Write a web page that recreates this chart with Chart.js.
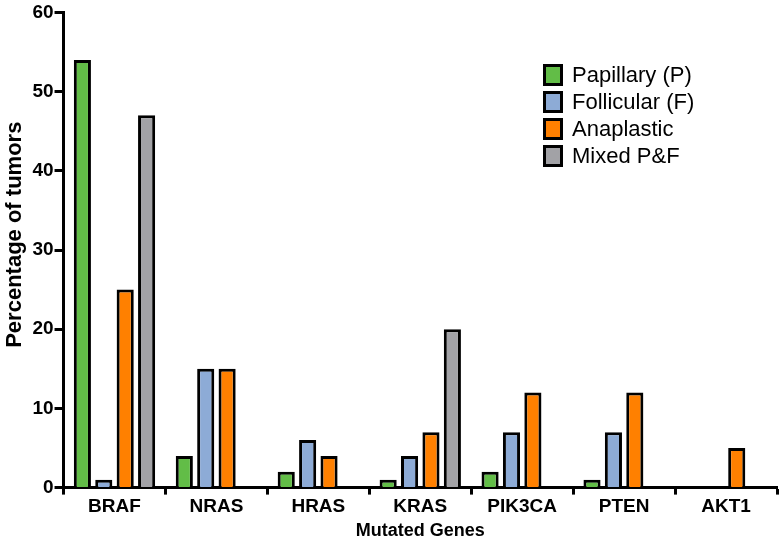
<!DOCTYPE html>
<html>
<head>
<meta charset="utf-8">
<script src="https://cdn.jsdelivr.net/npm/chart.js@4.4.1/dist/chart.umd.min.js"></script>
<style>
  html, body { margin: 0; padding: 0; background: #fff; }
  #wrap { position: relative; width: 784px; height: 545px; }
  #legend { position: absolute; left: 543px; top: 61px; font-family: "Liberation Sans", Arial, sans-serif; font-size: 22px; color: #000; }
  #legend div { height: 27px; line-height: 27px; white-space: nowrap; }
  #legend span { display: inline-block; width: 14px; height: 16px; border: 3px solid #000; vertical-align: -4px; margin-right: 9px; }
</style>
</head>
<body>
<div id="wrap">
  <canvas id="chart" width="784" height="545"></canvas>
  <div id="legend"></div>
</div>
<script>
// Data
const genes = ["BRAF", "NRAS", "HRAS", "KRAS", "PIK3CA", "PTEN", "AKT1"];
const papillary = [54, 4, 2, 1, 2, 1, null];
const follicular = [1, 15, 6, 4, 7, 7, null];
const anaplastic = [25, 15, 4, 7, 12, 12, 5];
const mixed = [47, null, null, 20, null, null, null];
const seriesNames = ["Papillary (P)", "Follicular (F)", "Anaplastic", "Mixed P&F"];
const seriesColors = ["#62bd47", "#8dabd6", "#ff8000", "#a2a2a6"];
const yTicks = [0, 10, 20, 30, 40, 50, 60];

const font = "'Liberation Sans', Arial, sans-serif";

const datasets = [papillary, follicular, anaplastic, mixed].map(function (vals, i) {
    return {
        label: seriesNames[i],
        data: vals,
        backgroundColor: seriesColors[i],
        borderColor: "#000",
        borderWidth: 3,
        borderSkipped: "bottom",
        categoryPercentage: 0.84,
        barPercentage: 0.8
    };
});

// simple html legend, so it sits inside the plot like the original
const legend = document.getElementById("legend");
seriesNames.forEach(function (name, i) {
    const row = document.createElement("div");
    row.innerHTML = '<span style="background:' + seriesColors[i] + '"></span>' + name;
    legend.appendChild(row);
});

const ctx = document.getElementById("chart").getContext("2d");
new Chart(ctx, {
    type: "bar",
    data: { labels: genes, datasets: datasets },
    options: {
        responsive: false,
        animation: false,
        layout: { padding: { top: 4, right: 7, left: 2, bottom: 3 } },
        plugins: {
            legend: { display: false },
            tooltip: { enabled: false }
        },
        scales: {
            x: {
                grid: { display: true, drawOnChartArea: false, tickLength: 7, tickWidth: 3, tickColor: "#000" },
                border: { color: "#000", width: 3 },
                ticks: { color: "#000", font: { family: font, size: 19, weight: "bold" }, padding: 1 },
                title: { display: true, text: "Mutated Genes", color: "#000", font: { family: font, size: 18, weight: "bold" }, padding: { top: 1, bottom: 0 } }
            },
            y: {
                min: 0,
                max: 60,
                afterBuildTicks: function (axis) {
                    axis.ticks = yTicks.map(function (v) { return { value: v }; });
                },
                grid: { display: true, drawOnChartArea: false, tickLength: 9, tickWidth: 3, tickColor: "#000" },
                border: { color: "#000", width: 3 },
                ticks: { color: "#000", font: { family: font, size: 19, weight: "bold" }, padding: 1 },
                title: { display: true, text: "\u00a0\u00a0\u00a0\u00a0\u00a0Percentage of tumors", color: "#000", font: { family: font, size: 22, weight: "bold" }, padding: { top: 0, bottom: 3 } }
            }
        }
    }
});
</script>
</body>
</html>
